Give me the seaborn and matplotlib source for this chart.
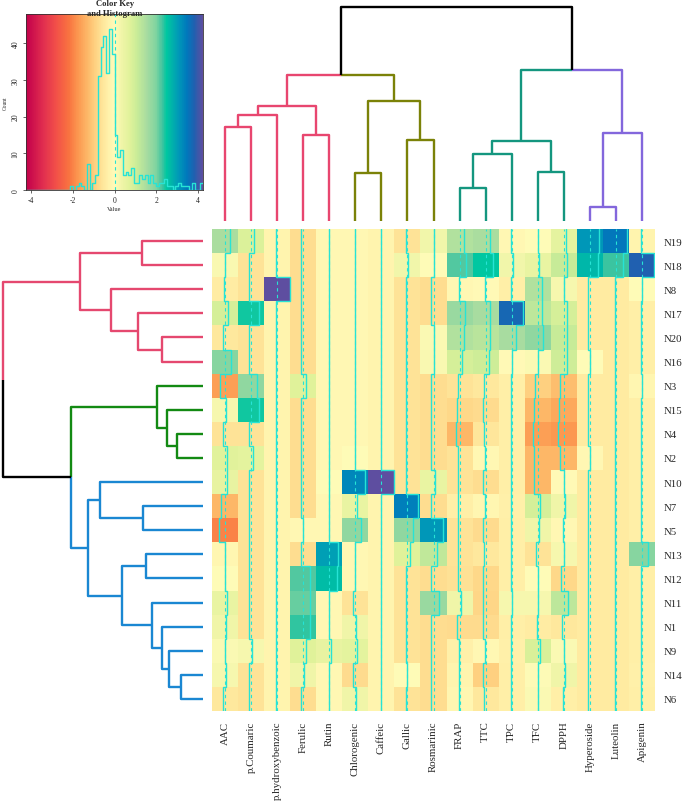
import numpy as np
import pandas as pd
import matplotlib
matplotlib.use("Agg")
import matplotlib.pyplot as plt
from matplotlib.colors import LinearSegmentedColormap
import seaborn as sns

# ---------------- data ----------------
columns = ["AAC", "p.Coumaric", "p.hydroxybenzoic", "Ferulic", "Rutin", "Chlorogenic",
           "Caffeic", "Gallic", "Rosmarinic", "FRAP", "TTC", "TPC", "TFC", "DPPH",
           "Hyperoside", "Luteolin", "Apigenin"]
rows = ["N19", "N18", "N8", "N17", "N20", "N16", "N3", "N15", "N4", "N2",
        "N10", "N7", "N5", "N13", "N12", "N11", "N1", "N9", "N14", "N6"]

N19 = [1.5, 0.8, -0.224, -0.7, -0.1, -0.1, -0.224, -0.6, 0.3, 1.4, 1.5, -0.1, 0.0, 0.6, 3.1, 3.5, -0.2]
N18 = [0.15, -0.6, -0.224, -0.7, -0.1, -0.1, -0.224, 0.3, 0.0, 2.2, 2.5, 0.3, 0.5, 1.1, 2.7, 2.3, 3.85]
N8 = [-0.4, -0.6, 4.25, -0.7, -0.1, -0.1, -0.224, -0.6, -0.7, -0.1, -0.05, -0.35, 1.4, 0.2, -0.45, -0.45, 0.0]
N17 = [0.9, 2.45, -0.224, -0.7, -0.1, -0.1, -0.224, -0.6, -0.7, 1.7, 1.55, 3.75, 1.25, 0.9, -0.45, -0.45, -0.35]
N20 = [-0.5, -0.6, -0.224, -0.7, -0.1, -0.1, -0.224, -0.6, 0.1, 1.4, 1.3, 1.55, 1.8, 1.1, -0.45, -0.45, -0.35]
N16 = [1.9, -0.6, -0.224, -0.7, -0.1, -0.1, -0.224, -0.6, 0.15, 0.9, 1.0, -0.05, 0.1, 1.0, 0.0, -0.45, -0.35]
N3 = [-1.65, 1.8, -0.224, 0.75, -0.1, -0.1, -0.224, -0.6, -0.7, -0.6, -0.5, -0.35, -0.95, -1.2, -0.45, -0.45, -0.15]
N15 = [0.2, 2.45, -0.224, -0.7, -0.1, -0.1, -0.224, -0.6, -0.7, -0.8, -0.75, -0.35, -1.3, -1.5, -0.45, -0.45, -0.35]
N4 = [-0.6, -0.6, -0.224, -0.7, -0.1, -0.1, -0.224, -0.6, -0.7, -1.3, -0.55, -0.35, -1.65, -1.75, -0.45, -0.45, -0.35]
N2 = [0.7, 0.65, -0.224, -0.7, -0.1, 0.0, -0.224, -0.6, -0.7, -0.6, -0.1, -0.35, -1.3, -1.3, -0.1, -0.45, -0.35]
N10 = [0.55, -0.6, -0.224, -0.7, 0.0, 3.3, 4.25, -0.6, 0.5, -0.6, -0.7, -0.35, -1.3, -0.05, -0.45, -0.45, -0.35]
N7 = [-1.3, -0.6, -0.224, -0.7, -0.1, 0.5, -0.224, 3.4, -0.7, -0.35, -0.15, -0.3, 0.9, 0.35, -0.45, -0.45, -0.35]
N5 = [-2.0, -0.6, -0.224, -0.1, -0.1, 1.8, -0.224, 1.8, 3.1, -0.6, -0.75, -0.35, 0.35, -0.1, -0.45, -0.45, -0.35]
N13 = [-0.15, -0.6, -0.224, -0.7, 3.0, -0.1, -0.224, 0.75, 1.2, -0.6, -0.5, -0.35, -0.6, 0.2, -0.45, -0.45, 1.9]
N12 = [0.0, -0.6, -0.224, 2.2, 2.65, -0.1, -0.224, -0.6, -0.7, -0.65, -0.8, -0.35, 0.0, -0.8, -0.45, -0.45, -0.35]
N11 = [0.5, -0.6, -0.224, 2.1, -0.1, -0.6, -0.224, -0.6, 1.7, 0.35, -0.85, 0.2, 0.2, 1.25, -0.45, -0.45, -0.35]
N1 = [0.35, -0.6, -0.224, 2.35, -0.1, 0.35, -0.224, -0.6, -0.7, -0.75, -0.75, -0.35, -0.4, -0.5, -0.45, -0.45, -0.35]
N9 = [0.1, 0.2, -0.224, 0.75, 0.55, 0.65, -0.224, -0.6, -0.7, -0.3, -0.1, -0.3, 0.85, 0.1, -0.45, -0.45, -0.35]
N14 = [0.2, -0.6, -0.224, 0.35, -0.1, -0.75, -0.224, 0.0, -0.7, -0.2, -0.95, -0.35, 0.05, 0.35, -0.45, -0.45, -0.3]
N6 = [-0.5, -0.6, -0.224, -0.7, -0.1, 0.35, -0.224, -0.6, -0.7, -0.15, -0.5, -0.35, 0.1, -0.35, -0.45, -0.45, -0.35]

values = [N19, N18, N8, N17, N20, N16, N3, N15, N4, N2, N10, N7, N5, N13, N12, N11, N1, N9, N14, N6]

# dendrograms: (left, right, merge height)
col_tree = (
    (((("AAC", "p.Coumaric", 94), "p.hydroxybenzoic", 106), ("Ferulic", "Rutin", 86), 115),
     (("Chlorogenic", "Caffeic", 48), ("Gallic", "Rosmarinic", 81), 120), 146),
    (((("FRAP", "TTC", 33), "TPC", 67), ("TFC", "DPPH", 49), 80),
     (("Hyperoside", "Luteolin", 14), "Apigenin", 88), 151),
    214)
col_clusters = [
    (["AAC", "p.Coumaric", "p.hydroxybenzoic", "Ferulic", "Rutin"], "#E8466F"),
    (["Chlorogenic", "Caffeic", "Gallic", "Rosmarinic"], "#7B8208"),
    (["FRAP", "TTC", "TPC", "TFC", "DPPH"], "#14967F"),
    (["Hyperoside", "Luteolin", "Apigenin"], "#8367DC"),
]
row_tree = (
    (("N19", "N18", 61), ("N8", ("N17", ("N20", "N16", 41), 65), 92), 123),
    (("N3", ("N15", ("N4", "N2", 26), 36), 46),
     (("N10", ("N7", "N5", 60), 103),
      (("N13", "N12", 57), ("N11", ("N1", ("N9", ("N14", "N6", 22), 34), 41), 51), 81), 115),
     132),
    200)
row_clusters = [
    (["N19", "N18", "N8", "N17", "N20", "N16"], "#E5486F"),
    (["N3", "N15", "N4", "N2"], "#138A13"),
    (["N10", "N7", "N5", "N13", "N12", "N11", "N1", "N9", "N14", "N6"], "#1A87D2"),
]

key_nodes = [(-4.25, "#C2004B"), (-3.4, "#E2304F"), (-2.8, "#F25048"), (-2.2, "#F87340"),
             (-1.75, "#FC9850"), (-1.3, "#FDB868"), (-0.95, "#FED080"), (-0.6, "#FEE498"),
             (-0.3, "#FFF1AA"), (0.0, "#FFFBB8"), (0.35, "#F0F5A8"), (0.75, "#E0F29A"),
             (1.1, "#C8EC98"), (1.55, "#A8DCA0"), (2.0, "#80D4A0"), (2.3, "#40C4A0"),
             (2.5, "#00C8A0"), (2.7, "#00B8A8"), (3.1, "#0098B8"), (3.5, "#0078BC"),
             (3.85, "#2060B0"), (4.25, "#5E4EA0")]
key_ticks = [-4, -2, 0, 2, 4]
count_ticks = [0, 10, 20, 30, 40]
VMIN, VMAX = -4.25, 4.25
N_BINS = 64

# ---------------- style ----------------
sns.set_style("white")
plt.rcParams["font.family"] = ["Liberation Serif", "DejaVu Serif"]
TRACE = "#27E3D5"

W, H = 685, 803
fig = plt.figure(figsize=(W / 100, H / 100), dpi=100)


def px(l, t, r, b):
    return [l / W, 1 - b / H, (r - l) / W, (b - t) / H]


cmap = LinearSegmentedColormap.from_list(
    "key", [((v - VMIN) / (VMAX - VMIN), c) for v, c in key_nodes])

df = pd.DataFrame(values, index=rows, columns=columns)

# ---------------- heatmap ----------------
ax_h = fig.add_axes(px(212, 230, 655, 712))
sns.heatmap(df, cmap=cmap, vmin=VMIN, vmax=VMAX, cbar=False, ax=ax_h,
            xticklabels=True, yticklabels=True)
ax_h.yaxis.tick_right()
ax_h.tick_params(axis="both", length=0, labelsize=7.8)
ax_h.tick_params(axis="y", pad=6)
ax_h.tick_params(axis="x", pad=7)
plt.setp(ax_h.get_yticklabels(), rotation=0, ha="left")
plt.setp(ax_h.get_xticklabels(), rotation=90, va="top", ha="center")
ax_h.set_xlabel("")
ax_h.set_ylabel("")

arr = df.to_numpy()
nr, nc = arr.shape
for i in range(nc):
    ax_h.axvline(i + 0.5, color=TRACE, lw=0.8, ls=(0, (3, 3)))
    xs, ys = [], []
    for j in range(nr):
        xv = i + (arr[j, i] - VMIN) / (VMAX - VMIN)
        xs += [xv, xv]
        ys += [j, j + 1]
    ax_h.plot(xs, ys, color=TRACE, lw=1.0, solid_joinstyle="miter")


# ---------------- dendrograms ----------------
def leaves(node):
    if isinstance(node, str):
        return [node]
    return leaves(node[0]) + leaves(node[1])


def cluster_color(node, clusters):
    ls = set(leaves(node))
    for members, col in clusters:
        if ls <= set(members):
            return col
    return "black"


def draw_tree(ax, node, pos, clusters, orient):
    if isinstance(node, str):
        return pos[node], 0.0
    left, right, h = node
    kids = [draw_tree(ax, left, pos, clusters, orient),
            draw_tree(ax, right, pos, clusters, orient)]
    x = (kids[0][0] + kids[1][0]) / 2
    for child, (cx, ch) in zip((left, right), kids):
        col = cluster_color(child, clusters)
        a = [x, cx, cx]
        b = [h, h, ch]
        if orient == "top":
            ax.plot(a, b, color=col, lw=1.7, clip_on=False, solid_capstyle="butt")
        else:
            ax.plot(b, a, color=col, lw=1.7, clip_on=False, solid_capstyle="butt")
    return x, h


ax_c = fig.add_axes(px(212, 8, 655, 222))
draw_tree(ax_c, col_tree, {c: k + 0.5 for k, c in enumerate(columns)}, col_clusters, "top")
ax_c.set_xlim(0, nc)
ax_c.set_ylim(0, col_tree[2])
ax_c.axis("off")

ax_r = fig.add_axes(px(3, 230, 203, 712))
draw_tree(ax_r, row_tree, {r: k + 0.5 for k, r in enumerate(rows)}, row_clusters, "left")
ax_r.set_xlim(row_tree[2], 0)
ax_r.set_ylim(nr, 0)
ax_r.axis("off")

# ---------------- colour key + histogram ----------------
ax_k = fig.add_axes(px(26, 15, 203, 191))
grad = np.linspace(VMIN, VMAX, 257)
mids = (grad[:-1] + grad[1:]) / 2
ax_k.pcolormesh(grad, [0, 48], mids[None, :], cmap=cmap, vmin=VMIN, vmax=VMAX,
                shading="flat")
sns.histplot(x=arr.ravel(), bins=np.linspace(VMIN, VMAX, N_BINS + 1), element="step",
             fill=False, color=TRACE, lw=1.0, ax=ax_k)
ax_k.axvline(0, color=TRACE, lw=0.8, ls=(0, (3, 3)))
ax_k.set_xlim(VMIN, VMAX)
ax_k.set_ylim(0, 48)
ax_k.set_xticks(key_ticks)
ax_k.set_xticklabels([str(t) for t in key_ticks], fontsize=5.5)
ax_k.set_yticks(count_ticks)
ax_k.set_yticklabels([str(t) for t in count_ticks], fontsize=5.5, rotation=90, va="center")
ax_k.tick_params(axis="both", length=2.5, width=0.5, pad=2, direction="out",
                 bottom=True, left=True)
ax_k.set_xlabel("Value", fontsize=4.5, labelpad=1)
ax_k.set_ylabel("Count", fontsize=4.0, labelpad=3)
for s in ax_k.spines.values():
    s.set_color("#333333")
    s.set_linewidth(0.6)

fig.text(115 / W, 1 - 4.5 / H, "Color Key", ha="center", va="center",
         fontsize=6.2, fontweight="bold")
fig.text(115 / W, 1 - 13.5 / H, "and Histogram", ha="center", va="center",
         fontsize=6.2, fontweight="bold")

fig.savefig("out.png", dpi=100)
